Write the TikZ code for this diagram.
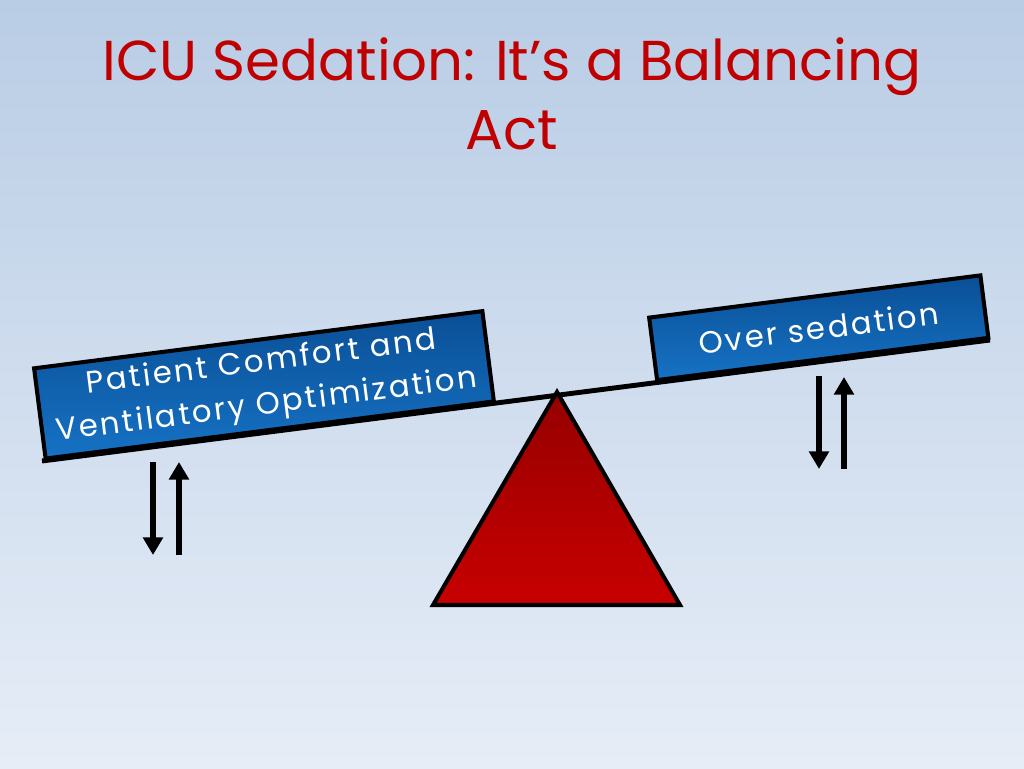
\documentclass[tikz,border=0pt]{standalone}
\usepackage{fontspec}
\setmainfont{Poppins}
\newfontfamily\boxfont[LetterSpace=8]{Poppins}
\usetikzlibrary{arrows.meta}
\definecolor{bgtop}{HTML}{B9CDE5}
\definecolor{bgbot}{HTML}{E6EDF7}
\definecolor{titlered}{HTML}{C00000}
\definecolor{boxtop}{HTML}{0A4F96}
\definecolor{boxbot}{HTML}{1672C4}
\definecolor{fulcl}{HTML}{C80000}
\definecolor{fulcd}{HTML}{960000}
\begin{document}
\begin{tikzpicture}[x=0.02cm,y=0.02cm,
  labelbox/.style={draw=black, line width=2.3pt, top color=boxtop, bottom color=boxbot, text=white,
    font=\boxfont\fontsize{17.5}{24.5}\selectfont, align=center, rotate=7.27, anchor=south, inner sep=0pt},
  updown/.style={line width=3.2pt, -{Triangle[width=11pt,length=10pt]}}]
\shade[top color=bgtop, bottom color=bgbot] (0,0) rectangle (1024,768);
\node[text=titlered, font=\fontsize{32}{39}\selectfont, align=center] (title) at (512,674) {ICU Sedation: It’s a Balancing\\Act};
\coordinate (beamL) at (42,307);
\coordinate (beamR) at (990,428);
\draw[line width=2.8pt] (beamL) -- (beamR);
\node[labelbox, minimum width=9.04cm, minimum height=1.82cm] (comfort) at (270,336) {Patient Comfort and\\Ventilatory Optimization};
\node[labelbox, minimum width=6.68cm, minimum height=1.26cm] (oversed) at (823,407) {Over sedation};
\coordinate (apex) at (557,376);
\coordinate (baseL) at (433,163);
\coordinate (baseR) at (680,163);
\draw[line width=2.3pt, top color=fulcd, bottom color=fulcl] (apex) -- (baseL) -- (baseR) -- cycle;
\coordinate (ldt) at (153,306);
\coordinate (ldb) at (153,213);
\coordinate (lut) at (179,306);
\coordinate (lub) at (179,213);
\draw[updown] (ldt) -- (ldb);
\draw[updown] (lub) -- (lut);
\coordinate (rdt) at (819,392);
\coordinate (rdb) at (819,299);
\coordinate (rut) at (844,391);
\coordinate (rub) at (844,299);
\draw[updown] (rdt) -- (rdb);
\draw[updown] (rub) -- (rut);
\end{tikzpicture}
\end{document}
